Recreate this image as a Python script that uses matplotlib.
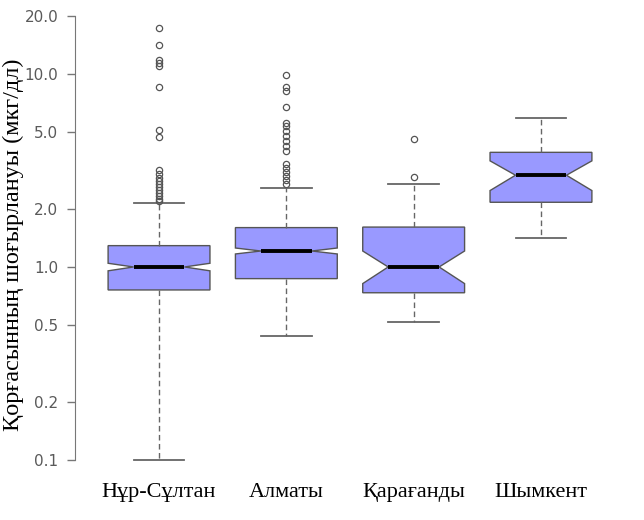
import matplotlib.pyplot as plt
import numpy as np

# данные (оценка с графика)
cities = ['Нұр-Сұлтан', 'Алматы', 'Қарағанды', 'Шымкент']
med = [1.0, 1.21, 1.0, 2.99]
q1 = [0.76, 0.87, 0.735, 2.165]
q3 = [1.29, 1.60, 1.61, 3.93]
whislo = [0.10, 0.44, 0.52, 1.42]
whishi = [2.14, 2.56, 2.70, 5.89]
cilo = [0.955, 1.168, 0.82, 2.49]
cihi = [1.045, 1.254, 1.21, 3.55]
fliers_ns = [17.3, 14.1, 11.8, 11.4, 11.0, 8.6, 5.13, 4.72, 3.18, 3.03, 2.89,
             2.79, 2.69, 2.60, 2.50, 2.42, 2.33, 2.25, 2.20]
fliers_al = [9.88, 8.57, 8.16, 6.77, 5.55, 5.38, 5.07, 4.77, 4.50, 4.24, 3.99,
             3.42, 3.26, 3.10, 2.96, 2.82, 2.69]
fliers_kr = [4.6, 2.92]
fliers_sh = []
fliers = [fliers_ns, fliers_al, fliers_kr, fliers_sh]
yticks = [0.1, 0.2, 0.5, 1.0, 2.0, 5.0, 10.0, 20.0]

stats = []
for i in range(len(cities)):
    stats.append({'med': med[i], 'q1': q1[i], 'q3': q3[i],
                  'whislo': whislo[i], 'whishi': whishi[i],
                  'cilo': cilo[i], 'cihi': cihi[i],
                  'fliers': fliers[i], 'label': cities[i]})

fig = plt.figure(figsize=(6.44, 5.2), dpi=100)
ax = fig.add_axes([75/644, 43/520, 550/644, 465/520])

ax.bxp(stats, positions=[1, 2, 3, 4], widths=0.8, shownotches=True, patch_artist=True,
       boxprops=dict(facecolor='#9999ff', edgecolor='#555555', linewidth=1),
       whiskerprops=dict(color='#666666', linestyle=(0, (4, 2.5)), linewidth=1),
       capprops=dict(color='#666666', linewidth=1.3),
       medianprops=dict(color='black', linewidth=2.8),
       flierprops=dict(marker='o', markerfacecolor='none', markeredgecolor='#555555',
                       markersize=4.5, markeredgewidth=0.9))

ax.set_yscale('log')
ax.set_ylim(10**-1.089, 10**1.322)
ax.set_xlim(0.34, 4.66)
ax.set_yticks(yticks)
ax.set_yticklabels([f'{t:.1f}' for t in yticks])
ax.minorticks_off()
ax.tick_params(axis='y', length=6, width=1, color='#777777', labelcolor='#5a5a5a', pad=6)
for lab in ax.get_yticklabels():
    lab.set_family(['Liberation Sans Narrow', 'DejaVu Sans'])
    lab.set_fontsize(11)

ax.set_xticks([1, 2, 3, 4])
ax.set_xticklabels(cities, family=['Liberation Serif', 'DejaVu Serif'], fontsize=16)
ax.tick_params(axis='x', length=0, pad=4)

for s in ['top', 'right', 'bottom']:
    ax.spines[s].set_visible(False)
ax.spines['left'].set_bounds(0.1, 20)
ax.spines['left'].set_color('#777777')

ax.set_ylabel('Қорғасынның шоғырлануы (мкг/дл)', family=['Liberation Serif', 'DejaVu Serif'],
              fontsize=17.5)
ax.yaxis.set_label_coords(-0.093, 0.5)

plt.savefig('out.png', dpi=100)
